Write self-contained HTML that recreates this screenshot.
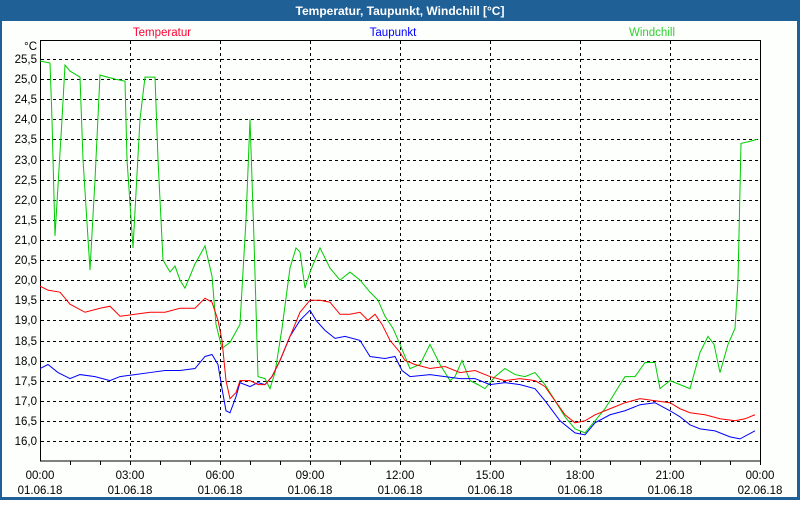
<!DOCTYPE html>
<html><head><meta charset="utf-8"><style>
body{margin:0;width:800px;height:500px;overflow:hidden;background:#fff;font-family:"Liberation Sans",sans-serif}
</style></head><body>
<svg width="800" height="500" xmlns="http://www.w3.org/2000/svg" font-family="Liberation Sans, sans-serif" font-size="11.5">
<rect x="0" y="0" width="800" height="500" fill="#1f6097"/>
<rect x="2" y="21" width="795" height="476" fill="#fcfffc"/>
<text x="400" y="15" text-anchor="middle" fill="#fff" font-weight="bold" font-size="12">Temperatur, Taupunkt, Windchill [°C]</text>
<text x="162" y="36" text-anchor="middle" fill="#ff0030">Temperatur</text>
<text x="393" y="36" text-anchor="middle" fill="#0000ff">Taupunkt</text>
<text x="652" y="36" text-anchor="middle" fill="#30d030">Windchill</text>
<g stroke="#000" stroke-dasharray="3,3" stroke-width="1">
<path d="M41 59.5H758M41 79.5H758M41 99.5H758M41 119.5H758M41 139.5H758M41 160.5H758M41 180.5H758M41 200.5H758M41 220.5H758M41 240.5H758M41 260.5H758M41 280.5H758M41 300.5H758M41 320.5H758M41 341.5H758M41 361.5H758M41 381.5H758M41 401.5H758M41 421.5H758M41 441.5H758"/>
<path d="M130.5 41V461M220.5 41V461M310.5 41V461M400.5 41V461M490.5 41V461M580.5 41V461M670.5 41V461"/>
</g>
<rect x="40.5" y="40.5" width="720" height="420.5" fill="none" stroke="#000"/>
<path d="M70.5 461v4M100.5 461v4M130.5 461v4M160.5 461v4M190.5 461v4M220.5 461v4M250.5 461v4M280.5 461v4M310.5 461v4M340.5 461v4M370.5 461v4M400.5 461v4M430.5 461v4M460.5 461v4M490.5 461v4M520.5 461v4M550.5 461v4M580.5 461v4M610.5 461v4M640.5 461v4M670.5 461v4M700.5 461v4M730.5 461v4M760.5 461v4" stroke="#000"/>
<g text-anchor="end" fill="#000">
<text x="37" y="50">°C</text>
<text x="37" y="63">25,5</text><text x="37" y="83">25,0</text><text x="37" y="103">24,5</text><text x="37" y="123">24,0</text><text x="37" y="143">23,5</text><text x="37" y="164">23,0</text><text x="37" y="184">22,5</text><text x="37" y="204">22,0</text><text x="37" y="224">21,5</text><text x="37" y="244">21,0</text><text x="37" y="264">20,5</text><text x="37" y="284">20,0</text><text x="37" y="304">19,5</text><text x="37" y="324">19,0</text><text x="37" y="345">18,5</text><text x="37" y="365">18,0</text><text x="37" y="385">17,5</text><text x="37" y="405">17,0</text><text x="37" y="425">16,5</text><text x="37" y="445">16,0</text>
</g>
<g text-anchor="middle" fill="#000">
<text x="40" y="479">00:00</text><text x="40" y="494">01.06.18</text>
<text x="130" y="479">03:00</text><text x="130" y="494">01.06.18</text>
<text x="220" y="479">06:00</text><text x="220" y="494">01.06.18</text>
<text x="310" y="479">09:00</text><text x="310" y="494">01.06.18</text>
<text x="400" y="479">12:00</text><text x="400" y="494">01.06.18</text>
<text x="490" y="479">15:00</text><text x="490" y="494">01.06.18</text>
<text x="580" y="479">18:00</text><text x="580" y="494">01.06.18</text>
<text x="670" y="479">21:00</text><text x="670" y="494">01.06.18</text>
<text x="760" y="479">00:00</text><text x="760" y="494">02.06.18</text>
</g>
<g transform="matrix(1,0,0,-40.2,0,1084.1)" fill="none" stroke-width="1">
<polyline vector-effect="non-scaling-stroke" stroke="#00cc00" points="40,25.45 50,25.4 52,24.0 55,21.1 62,24.0 65,25.35 70,25.2 80,25.05 83,23.0 90,20.25 95,22.5 100,25.1 115,25.0 125,24.95 127,23.0 133,20.8 140,24.0 145,25.05 155,25.05 158,23.0 163,20.5 170,20.2 175,20.35 180,20.0 185,19.8 195,20.4 205,20.85 212,20.1 216,18.9 222,18.3 230,18.45 240,18.9 246,21.5 250,24.0 254,21.0 258,17.6 265,17.55 270,17.3 275,17.7 282,18.8 290,20.3 296,20.8 300,20.7 305,19.8 310,20.2 320,20.8 330,20.3 340,20.0 350,20.2 360,20.0 370,19.7 378,19.5 385,19.1 393,18.8 400,18.4 410,17.8 420,17.9 430,18.4 440,17.9 450,17.5 455,17.6 462,18.0 470,17.5 478,17.4 485,17.3 495,17.6 505,17.8 515,17.65 525,17.6 535,17.7 545,17.4 555,17.0 565,16.6 575,16.3 585,16.2 595,16.5 605,16.8 615,17.2 625,17.6 635,17.6 645,17.95 655,17.95 660,17.3 670,17.5 680,17.4 690,17.3 700,18.2 708,18.6 714,18.4 720,17.7 728,18.4 735,18.8 738,20.0 741,23.4 750,23.45 757,23.5"/>
<polyline vector-effect="non-scaling-stroke" stroke="#0000ff" points="40,17.8 48,17.9 58,17.7 70,17.55 80,17.65 95,17.6 110,17.5 120,17.6 135,17.65 150,17.7 165,17.75 180,17.75 195,17.8 205,18.1 212,18.15 218,17.9 222,17.3 226,16.75 230,16.7 236,17.1 240,17.45 250,17.35 258,17.45 265,17.4 272,17.6 280,18.0 290,18.6 300,19.0 310,19.25 316,19.0 325,18.75 335,18.55 345,18.6 360,18.5 370,18.1 385,18.05 395,18.1 402,17.75 410,17.6 430,17.65 445,17.6 460,17.55 475,17.55 490,17.4 505,17.45 520,17.4 535,17.3 545,17.0 560,16.5 575,16.2 585,16.15 595,16.45 610,16.65 625,16.75 640,16.9 655,16.95 670,16.75 680,16.6 690,16.4 700,16.3 715,16.25 730,16.1 740,16.05 755,16.25"/>
<polyline vector-effect="non-scaling-stroke" stroke="#ff0000" points="40,19.85 48,19.75 60,19.7 70,19.4 85,19.2 100,19.3 110,19.35 120,19.1 135,19.15 150,19.2 165,19.2 180,19.3 195,19.3 205,19.55 212,19.45 218,19.0 222,18.5 226,17.5 230,17.05 236,17.2 240,17.5 250,17.5 258,17.4 265,17.4 272,17.6 280,18.0 290,18.6 300,19.2 310,19.5 320,19.5 330,19.45 340,19.15 350,19.15 360,19.2 368,19.0 375,19.15 382,18.9 390,18.5 400,18.2 405,18.0 415,17.9 430,17.8 445,17.85 460,17.7 475,17.75 490,17.6 505,17.5 520,17.55 535,17.5 545,17.35 555,17.0 565,16.65 575,16.45 585,16.5 595,16.65 610,16.8 625,16.95 640,17.05 655,17.0 670,16.95 680,16.8 690,16.7 705,16.65 720,16.55 735,16.5 745,16.55 755,16.65"/>
</g>
</svg>
</body></html>
